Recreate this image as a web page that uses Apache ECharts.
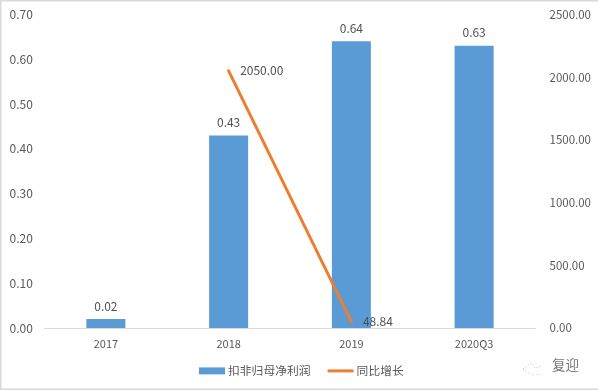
<!DOCTYPE html>
<html>
<head>
<meta charset="utf-8">
<style>
html,body{margin:0;padding:0;background:#fff}
#c{width:598px;height:390px}
</style>
<script src="https://cdn.jsdelivr.net/npm/echarts@6/dist/echarts.min.js"></script>
</head>
<body>
<div id="c"></div>
<script>
var categories = ['2017', '2018', '2019', '2020Q3'];
var profitValues = [0.02, 0.43, 0.64, 0.63];
var growthValues = [null, 2050.00, 48.84, null];
var barName = '扣非归母净利润';
var lineName = '同比增长';
var watermark = '复迎';
var fontFamily = '"Microsoft YaHei","Noto Sans CJK SC","Open Sans",sans-serif';
var textColor = '#595959';

var chart = echarts.init(document.getElementById('c'), null, {renderer: 'canvas'});
chart.setOption({
  animation: false,
  backgroundColor: '#fff',
  textStyle: {fontFamily: fontFamily},
  grid: {left: 44.5, right: 62.5, top: 14.5, bottom: 62, containLabel: false},
  legend: {
    top: 360, left: 194,
    itemGap: 17, itemWidth: 26, itemHeight: 7,
    textStyle: {color: textColor, fontSize: 11.8, fontFamily: fontFamily, padding: [0, 0, 0, -2]},
    data: [
      {name: barName, icon: 'rect'},
      {name: lineName, icon: 'path://M0,0H26V3H0Z', itemStyle: {color: '#ED7D31'}}
    ]
  },
  xAxis: {
    type: 'category', data: categories,
    axisLine: {lineStyle: {color: '#D9D9D9', width: 1}},
    axisTick: {show: false},
    axisLabel: {color: textColor, fontSize: 11, margin: 10}
  },
  yAxis: [
    {
      type: 'value', min: 0, max: 0.7, interval: 0.1,
      axisLine: {show: false}, axisTick: {show: false}, splitLine: {show: false},
      axisLabel: {color: textColor, fontSize: 12, margin: 35, align: 'left',
        formatter: function (v) { return v.toFixed(2); }}
    },
    {
      type: 'value', min: 0, max: 2500, interval: 500,
      axisLine: {show: false}, axisTick: {show: false}, splitLine: {show: false},
      axisLabel: {color: textColor, fontSize: 11.5, margin: 14, align: 'left',
        formatter: function (v) { return v.toFixed(2); }}
    }
  ],
  series: [
    {
      name: barName, type: 'bar', yAxisIndex: 0, data: profitValues,
      barWidth: 39,
      itemStyle: {color: '#5B9BD5'},
      label: {show: true, position: 'top', distance: 7, color: '#505050', fontSize: 12,
        formatter: function (p) { return p.value.toFixed(2); }}
    },
    {
      name: lineName, type: 'line', yAxisIndex: 1, data: growthValues,
      symbol: 'circle', symbolSize: 1, showSymbol: true, showAllSymbol: true, connectNulls: false,
      lineStyle: {color: '#ED7D31', width: 3, cap: 'round'},
      itemStyle: {color: '#ED7D31'},
      label: {show: true, position: 'right', distance: 11, color: '#505050', fontSize: 12,
        formatter: function (p) { return p.value == null ? '' : p.value.toFixed(2); }}
    }
  ],
  graphic: [
    {type: 'rect', left: 0, top: 0, silent: true,
      shape: {width: 598, height: 1.5}, style: {fill: '#D9D9D9'}},
    {type: 'rect', left: 0, top: 0, silent: true,
      shape: {width: 1.5, height: 390}, style: {fill: '#D9D9D9'}},
    {type: 'rect', left: 0, top: 388.5, silent: true,
      shape: {width: 598, height: 1.5}, style: {fill: '#D9D9D9'}},
    {type: 'text', left: 552, top: 358, silent: true,
      style: {text: watermark, fill: '#777', fontSize: 13.5, fontFamily: fontFamily}},
    {type: 'polyline', silent: true,
      shape: {points: [[523,369],[531,363],[535,368],[542,366]]},
      style: {stroke: '#bbb', fill: null, lineWidth: 1, lineDash: [1, 2]}},
    {type: 'polyline', silent: true,
      shape: {points: [[523,369],[532,375],[542,374]]},
      style: {stroke: '#ccc', fill: null, lineWidth: 1, lineDash: [1, 2]}}
  ]
});
</script>
</body>
</html>
